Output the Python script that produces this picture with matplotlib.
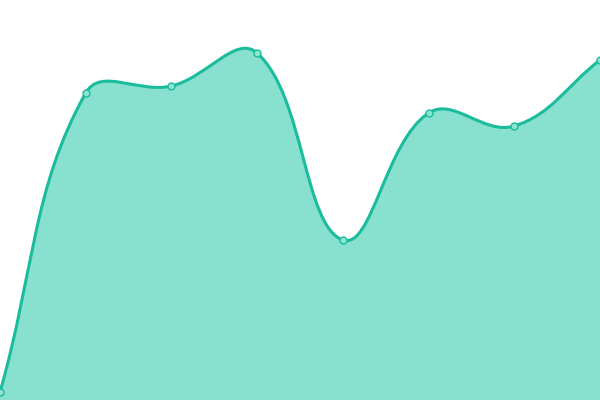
import matplotlib
matplotlib.use("Agg")
import matplotlib.pyplot as plt
import numpy as np
from matplotlib.path import Path
from matplotlib.patches import PathPatch

categories = list(range(8))
values = [8, 307, 314, 347, 160, 287, 274, 340]

LINE = "#1abc9c"
FILL = "#88e0cf"
TENSION = 0.4

fig = plt.figure(figsize=(6, 4), dpi=100)
ax = fig.add_axes([0, 0, 1, 1])
ax.set_xlim(0, 7)
ax.set_ylim(0, 400)
ax.axis("off")

# compute cardinal-spline control points in display space
pts = ax.transData.transform(np.column_stack([categories, values]))
n = len(pts)
cps = []
for i in range(n):
    prev = pts[i - 1] if i > 0 else pts[i]
    cur = pts[i]
    nxt = pts[i + 1] if i < n - 1 else pts[i]
    d01 = np.hypot(*(cur - prev))
    d12 = np.hypot(*(nxt - cur))
    s = d01 + d12
    fa = TENSION * d01 / s if s else 0
    fb = TENSION * d12 / s if s else 0
    cp_prev = cur - fa * (nxt - prev)
    cp_next = cur + fb * (nxt - prev)
    cps.append((cp_prev, cp_next))

verts = [pts[0]]
codes = [Path.MOVETO]
for i in range(n - 1):
    verts += [cps[i][1], cps[i + 1][0], pts[i + 1]]
    codes += [Path.CURVE4] * 3
inv = ax.transData.inverted()
verts_d = inv.transform(np.array(verts))

line_path = Path(verts_d, codes)
fill_verts = np.vstack([verts_d, [[categories[-1], 0], [categories[0], 0], verts_d[0]]])
fill_codes = codes + [Path.LINETO, Path.LINETO, Path.CLOSEPOLY]
ax.add_patch(PathPatch(Path(fill_verts, fill_codes), facecolor=FILL, edgecolor="none"))
ax.add_patch(PathPatch(line_path, facecolor="none", edgecolor=LINE, lw=2.2, capstyle="round"))
ax.plot(categories, values, "o", ms=5, mfc="#8fe3d2", mec=LINE, mew=1.0, clip_on=False)

fig.savefig("out.png", dpi=100)
